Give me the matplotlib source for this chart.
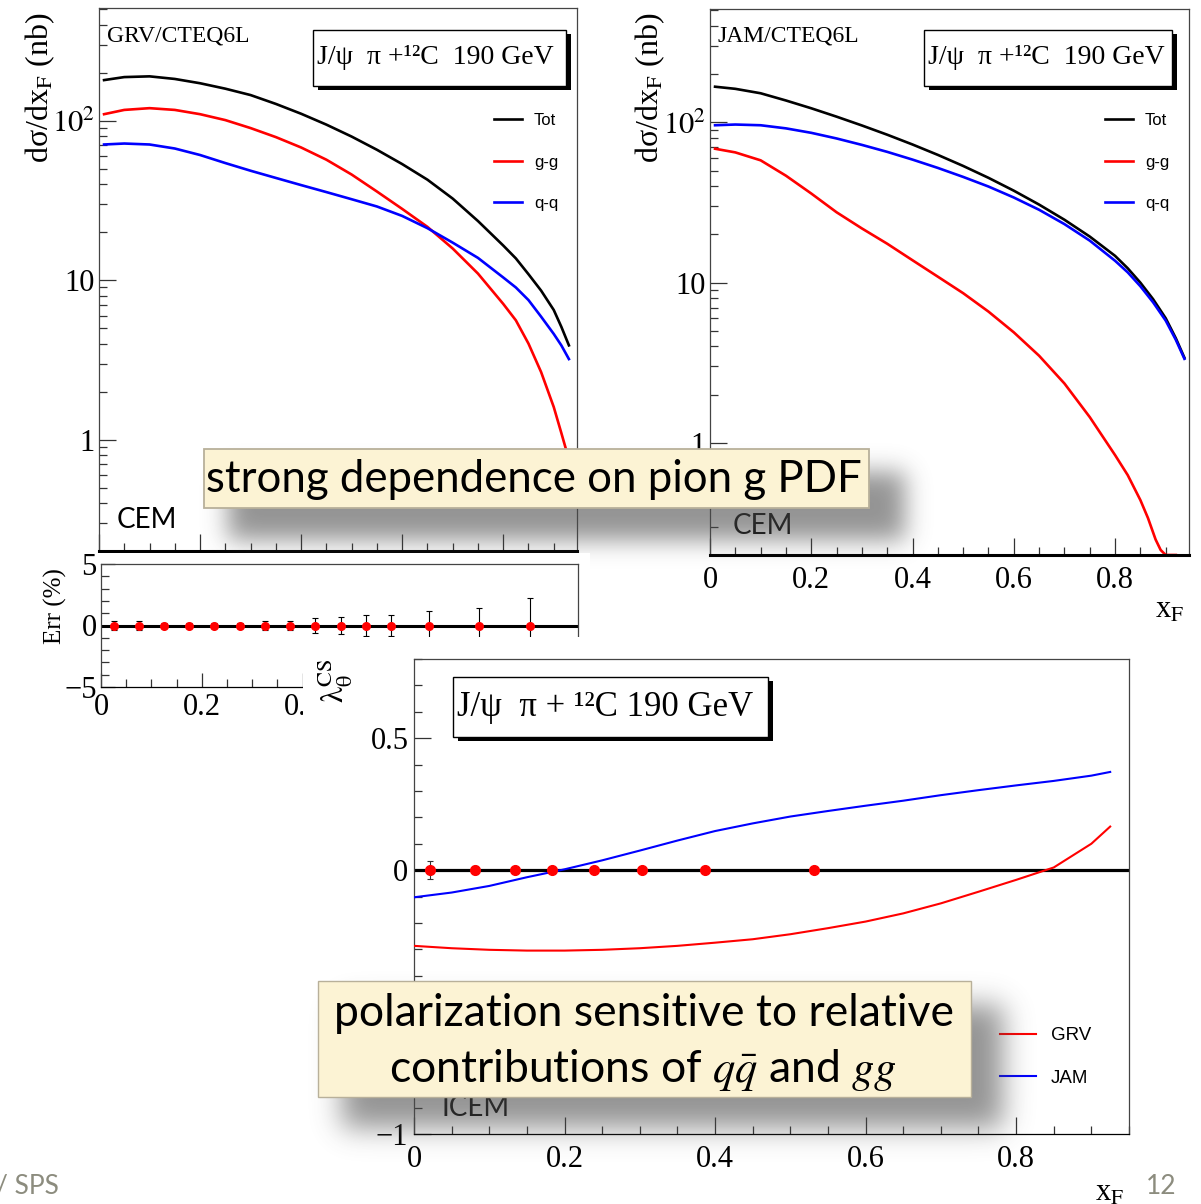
import numpy as np
import matplotlib
matplotlib.use('Agg')
import matplotlib.pyplot as plt
from matplotlib.patches import Rectangle
from matplotlib.ticker import MultipleLocator, FixedLocator, LogLocator, NullFormatter, FuncFormatter

# ---- data ----
xf_grv = [0.01, 0.05, 0.10, 0.15, 0.20, 0.25, 0.30, 0.35, 0.40, 0.45, 0.50,
          0.55, 0.60, 0.65, 0.70, 0.75, 0.80, 0.825, 0.85, 0.875, 0.90, 0.915, 0.93]
tot_grv = [180, 188, 190, 183, 172, 159, 145, 127.6, 110.7, 94.6, 79.6,
           65.8, 53.5, 42.7, 32.5, 23.5, 16.5, 13.7, 10.9, 8.6, 6.5, 5.1, 3.9]
gg_grv = [110, 117, 120, 117, 110, 101, 90, 79, 68, 57, 46,
          36, 28, 21.6, 15.8, 11.0, 7.1, 5.6, 4.0, 2.65, 1.6, 1.1, 0.75]
qq_grv = [71, 72, 71, 67, 61, 54.3, 48.6, 43.8, 39.5, 35.7, 32.2,
          29.0, 25.3, 21.2, 17.2, 13.8, 10.4, 9.0, 7.5, 5.9, 4.6, 3.9, 3.2]

xf_jam = [0.01, 0.05, 0.10, 0.15, 0.20, 0.25, 0.30, 0.35, 0.40, 0.45, 0.50,
          0.55, 0.60, 0.65, 0.70, 0.75, 0.80, 0.825, 0.85, 0.875, 0.90, 0.92, 0.937]
tot_jam = [167, 162, 152, 137, 122.5, 108.6, 95.7, 83.8, 72.8, 62.7, 53.5,
           45.1, 37.5, 30.7, 24.7, 19.4, 14.7, 12.3, 10.0, 7.9, 6.0, 4.5, 3.4]
qq_jam = [96, 97, 96, 91.8, 86.1, 79.4, 72.4, 65.5, 58.6, 52.0, 45.7,
          39.8, 34.0, 28.5, 23.2, 18.3, 13.7, 11.6, 9.5, 7.55, 5.8, 4.4, 3.35]
xf_jam_gg = [0.01, 0.05, 0.10, 0.15, 0.20, 0.25, 0.30, 0.35, 0.40, 0.45, 0.50, 0.55,
             0.60, 0.65, 0.70, 0.75, 0.80, 0.825, 0.85, 0.865, 0.88, 0.89, 0.90, 0.92]
gg_jam = [68.5, 65, 58, 46.5, 36, 27.5, 21.8, 17.5, 13.8, 10.9, 8.6, 6.6,
          4.9, 3.5, 2.35, 1.45, 0.84, 0.63, 0.44, 0.34, 0.25, 0.215, 0.2, 0.2]

err_x = [0.025, 0.075, 0.125, 0.175, 0.225, 0.275, 0.325, 0.375, 0.425, 0.475,
         0.525, 0.575, 0.65, 0.75, 0.85]
err_y = [0] * 15
err_e = [0.35, 0.35, 0.2, 0.2, 0.2, 0.2, 0.4, 0.4, 0.57, 0.7, 0.85, 0.85, 1.17, 1.4, 2.2]

xf_lam = [0.0, 0.05, 0.10, 0.15, 0.20, 0.25, 0.30, 0.35, 0.40, 0.45, 0.50,
          0.55, 0.60, 0.65, 0.70, 0.75, 0.80, 0.85, 0.90, 0.925]
lam_grv = [-0.287, -0.296, -0.302, -0.305, -0.305, -0.302, -0.296, -0.287, -0.275, -0.262,
           -0.243, -0.220, -0.195, -0.164, -0.126, -0.082, -0.037, 0.010, 0.100, 0.165]
lam_jam = [-0.103, -0.085, -0.060, -0.027, 0.003, 0.037, 0.074, 0.112, 0.148, 0.177,
           0.203, 0.224, 0.244, 0.263, 0.284, 0.303, 0.321, 0.338, 0.358, 0.372]
pts_x = [0.021, 0.081, 0.134, 0.184, 0.239, 0.303, 0.386, 0.531]
pts_y = [0] * 8
pts_e = [0.033, 0.015, 0.008, 0.006, 0.006, 0.006, 0.006, 0.008]

W, H = 1201, 1204
SANS = 'Lato'
plt.rcParams['font.family'] = 'Liberation Serif'
plt.rcParams['mathtext.fontset'] = 'stix'

fig = plt.figure(figsize=(W / 100, H / 100), dpi=100)


def frac(x0, y0, x1, y1):
    return [x0 / W, 1 - y1 / H, (x1 - x0) / W, (y1 - y0) / H]


def ftext(x, y, s, **kw):
    return fig.text(x / W, 1 - y / H, s, **kw)


def frect(x0, y0, x1, y1, **kw):
    r = Rectangle((x0 / W, 1 - y1 / H), (x1 - x0) / W, (y1 - y0) / H,
                  transform=fig.transFigure, **kw)
    fig.add_artist(r)
    return r


def soft_shadow(x0, y0, x1, y1, blur, alpha, z):
    pad = int(3 * blur)
    w = int(x1 - x0) + 2 * pad
    h = int(y1 - y0) + 2 * pad
    m = np.zeros((h, w))
    m[pad:h - pad, pad:w - pad] = 1.0
    t = np.arange(-pad, pad + 1)
    k = np.exp(-0.5 * (t / blur) ** 2)
    k /= k.sum()
    m = np.apply_along_axis(lambda r: np.convolve(r, k, mode='same'), 1, m)
    m = np.apply_along_axis(lambda c: np.convolve(c, k, mode='same'), 0, m)
    img = np.zeros((h, w, 4))
    img[..., :3] = 0.3
    img[..., 3] = alpha * m
    fig.figimage(img, xo=int(x0) - pad, yo=H - int(y1) - pad, origin='upper', zorder=z)


def root_box(ax, x0, y0, x1, y1, s, size):
    # ROOT TPaveText: white box with hard black shadow
    ax.add_patch(Rectangle(((x0 + 5) / W, 1 - (y1 + 4) / H), (x1 - x0) / W, (y1 - y0) / H,
                           transform=fig.transFigure, facecolor='black', edgecolor='none', zorder=5))
    ax.add_patch(Rectangle((x0 / W, 1 - y1 / H), (x1 - x0) / W, (y1 - y0) / H,
                           transform=fig.transFigure, facecolor='white', edgecolor='black',
                           lw=1.0, zorder=6))
    ax.text((x0 + 4) / W, 1 - (y0 + y1) / 2 / H, s, transform=fig.transFigure,
            ha='left', va='center', fontsize=size, zorder=7)


def fmt(v, pos=None):
    if abs(v) < 1e-9:
        return '0'
    return ('%g' % v).replace('-', '\u2212')


def root_axes(ax):
    for side in ['top', 'right', 'left']:
        ax.spines[side].set_color('#444444')
        ax.spines[side].set_linewidth(0.9)
    ax.spines['bottom'].set_linewidth(0.9)
    ax.tick_params(which='both', direction='in', top=False, right=False,
                   width=0.9, color='#333333', labelsize=22)
    ax.tick_params(which='major', length=12)
    ax.tick_params(which='minor', length=6)


# ---- upper panels: dsigma/dxF ----
def cs_panel(rect, xt, xg, pdf_label, tot, gg, qq, box, legend_x, cem_xy, show_xlabels):
    ax = fig.add_axes(frac(*rect))
    ax.set_zorder(1)
    root_axes(ax)
    ax.spines['bottom'].set_linewidth(2.2)
    ax.spines['bottom'].set_color('black')
    ax.set_yscale('log')
    ax.set_xlim(0, 0.946)
    ax.set_ylim(0.2, 510)
    ax.plot(xt, tot, color='black', lw=1.9, label='Tot')
    ax.plot(xg, gg, color='#ff0000', lw=1.9, label='g-g')
    ax.plot(xt, qq, color='#0000ff', lw=1.9, label='q-q')
    ax.yaxis.set_major_locator(FixedLocator([1, 10, 100]))
    ax.yaxis.set_major_formatter(FuncFormatter(lambda v, p: {1: '1', 10: '10', 100: '$10^2$'}.get(int(round(v)), '')))
    ax.yaxis.set_minor_locator(LogLocator(base=10, subs=np.arange(2, 10)))
    ax.yaxis.set_minor_formatter(NullFormatter())
    ax.xaxis.set_major_locator(MultipleLocator(0.2))
    ax.xaxis.set_minor_locator(MultipleLocator(0.05))
    ax.xaxis.set_major_formatter(FuncFormatter(fmt))
    ax.tick_params(axis='x', labelbottom=show_xlabels, pad=8)
    ax.tick_params(axis='y', pad=3)
    ax.text((rect[0] + 8) / W, 1 - 36 / H, pdf_label, transform=fig.transFigure,
            fontsize=17, ha='left', va='center')
    root_box(ax, *box, size=20)
    ax.legend(loc='center left', bbox_to_anchor=(legend_x / W, 1 - 162 / H),
              bbox_transform=fig.transFigure, frameon=False, borderpad=0, borderaxespad=0,
              handlelength=1.7, handletextpad=0.7, labelspacing=1.6,
              prop={'family': 'Liberation Sans', 'size': 12})
    ax.text(cem_xy[0] / W, 1 - cem_xy[1] / H, 'CEM', transform=fig.transFigure,
            family=SANS, fontsize=20, ha='left', va='center')
    return ax


ax1 = cs_panel((99, 8, 577, 551), xf_grv, xf_grv, 'GRV/CTEQ6L', tot_grv, gg_grv, qq_grv,
               (313, 30, 566, 86, 'J/ψ  π +¹²C  190 GeV'), 494, (117, 520), False)
ax2 = cs_panel((710, 9, 1189, 555), xf_jam, xf_jam_gg, 'JAM/CTEQ6L', tot_jam, gg_jam, qq_jam,
               (924, 30, 1172, 86, 'J/ψ  π +¹²C  190 GeV'), 1105, (733, 526), True)
for xx, yy in [(40, 88), (650, 88)]:
    ftext(xx, yy, 'dσ/dx$_{\\rm F}$ (nb)', rotation=90, ha='center', va='center', fontsize=23)
ftext(1170, 610, 'x$_{\\rm F}$', ha='center', va='center', fontsize=22)

# shadow of the first note, then the error panel image on top of it
soft_shadow(228, 472, 905, 540, 12, 0.6, 2)
frect(0, 553, 590, 725, facecolor='white', edgecolor='none', zorder=3)

axe = fig.add_axes(frac(101, 564, 578, 687))
axe.set_zorder(4)
axe.patch.set_alpha(0)
root_axes(axe)
axe.set_xlim(0, 0.946)
axe.set_ylim(-5, 5)
axe.axhline(0, color='black', lw=2.2, zorder=2)
axe.errorbar(err_x, err_y, yerr=err_e, fmt='o', color='#ff0000', ms=5.5, ecolor='black',
             elinewidth=0.8, capsize=2, capthick=0.8, zorder=3)
axe.xaxis.set_major_locator(MultipleLocator(0.2))
axe.xaxis.set_minor_locator(MultipleLocator(0.05))
axe.yaxis.set_major_locator(MultipleLocator(5))
axe.yaxis.set_minor_locator(MultipleLocator(1))
# only the labels left of the lower panel's image show on the slide
axe.xaxis.set_major_formatter(FuncFormatter(lambda v, p: fmt(v) if v < 0.45 else ''))
axe.yaxis.set_major_formatter(FuncFormatter(fmt))
axe.tick_params(axis='x', pad=4)
axe.tick_params(axis='y', pad=3)
axe.tick_params(which='major', length=10)
ftext(55, 606, 'Err (%)', rotation=90, ha='center', va='center', fontsize=18, zorder=4)

# ---- lower panel: lambda_theta ----
frect(303, 637, W, H, facecolor='white', edgecolor='none', zorder=5)
ax3 = fig.add_axes(frac(414, 659, 1129, 1134))
ax3.set_zorder(6)
root_axes(ax3)
ax3.set_xlim(0, 0.95)
ax3.set_ylim(-1, 0.8)
ax3.axhline(0, color='black', lw=2.3, zorder=2)
ax3.plot(xf_lam, lam_grv, color='#ff0000', lw=1.5, label='GRV', zorder=3)
ax3.plot(xf_lam, lam_jam, color='#0000ff', lw=1.5, label='JAM', zorder=3)
ax3.errorbar(pts_x, pts_y, yerr=pts_e, fmt='o', color='#ff0000', ms=7, ecolor='#333333',
             elinewidth=0.8, capsize=2, capthick=0.8, zorder=4)
ax3.xaxis.set_major_locator(MultipleLocator(0.2))
ax3.xaxis.set_minor_locator(MultipleLocator(0.05))
ax3.yaxis.set_major_locator(MultipleLocator(0.5))
ax3.yaxis.set_minor_locator(MultipleLocator(0.1))
ax3.xaxis.set_major_formatter(FuncFormatter(fmt))
# the -0.5 label sits under the note box on the slide
ax3.yaxis.set_major_formatter(FuncFormatter(lambda v, p: '' if abs(v + 0.5) < 1e-9 else fmt(v)))
ax3.tick_params(axis='x', pad=8)
ax3.tick_params(axis='y', pad=4)
root_box(ax3, 453, 677, 768, 737, 'J/ψ  π + ¹²C 190 GeV', 25)
ax3.legend(loc='center left', bbox_to_anchor=(1000 / W, 1 - 1057 / H),
           bbox_transform=fig.transFigure, frameon=False, borderpad=0, borderaxespad=0,
           handlelength=1.9, handletextpad=0.8, labelspacing=1.37,
           prop={'family': 'Liberation Sans', 'size': 13.5})
ax3.text(442 / W, 1 - 1108 / H, 'ICEM', transform=fig.transFigure,
         family=SANS, fontsize=20, ha='left', va='center')
ftext(334, 681, r'$\mathrm{\lambda}_{\mathrm{\theta}}^{\mathrm{CS}}$', rotation=90,
      ha='center', va='center', fontsize=23, zorder=7)
ftext(1110, 1193, 'x$_{\\rm F}$', ha='center', va='center', fontsize=22, zorder=7)

# ---- slide notes ----
box_face = '#FCF3D4'
box_edge = '#B8B09A'
frect(204, 449, 869, 508, facecolor=box_face, edgecolor=box_edge, lw=1.3, zorder=10)
ftext(534, 480, 'strong dependence on pion g PDF', family=SANS, fontsize=31.5,
      ha='center', va='center', zorder=11)

soft_shadow(342, 1005, 1003, 1128, 14, 0.6, 8)
frect(318, 981, 971, 1097, facecolor=box_face, edgecolor=box_edge, lw=1.0, zorder=10)
ftext(644, 1013, 'polarization sensitive to relative', family=SANS, fontsize=32,
      ha='center', va='center', zorder=11)
ftext(643, 1070, r'contributions of $q\bar{q}$ and $gg$', family=SANS, fontsize=32,
      ha='center', va='center', zorder=11)

ftext(-4, 1186, '/ SPS', family=SANS, fontsize=19, color='#8C8C7E', ha='left', va='center', zorder=12)
ftext(1146, 1186, '12', family=SANS, fontsize=19, color='#8C8C7E', ha='left', va='center', zorder=12)

fig.savefig('out.png', dpi=100)
